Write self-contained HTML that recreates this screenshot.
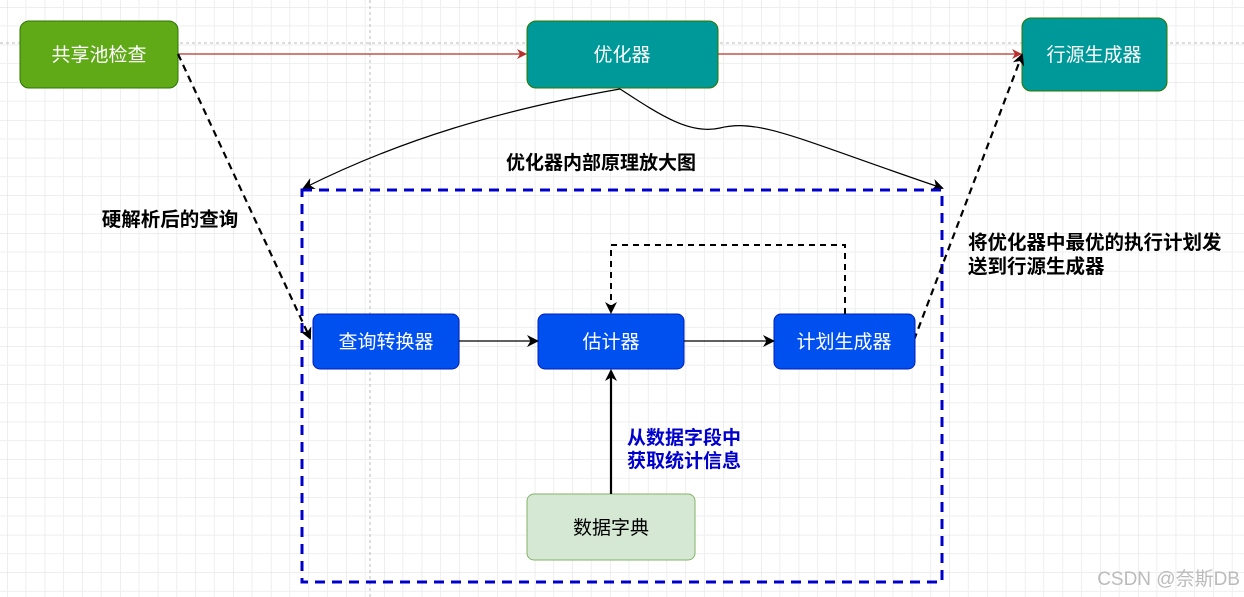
<!DOCTYPE html>
<html><head><meta charset="utf-8"><style>
html,body{margin:0;padding:0;background:#fff}
svg{display:block}
text{font-family:"Liberation Sans","Noto Sans CJK SC",sans-serif}
</style></head><body>
<svg width="1244" height="597" viewBox="0 0 1244 597" xmlns="http://www.w3.org/2000/svg">
<defs>
<pattern id="g" x="7" y="7" width="37.7" height="37.7" patternUnits="userSpaceOnUse">
<path d="M0 0H37.7M0 0V37.7" stroke="#dedede" stroke-width="1" fill="none"/>
<path d="M0 18.85H37.7M18.85 0V37.7" stroke="#efefef" stroke-width="1" fill="none"/>
</pattern>
<marker id="ab" markerWidth="12" markerHeight="12" refX="10" refY="6" orient="auto" markerUnits="userSpaceOnUse"><path d="M0 0L12 6L0 12L3.5 6Z" fill="#000"/></marker>
<marker id="ar" markerWidth="10" markerHeight="10" refX="9" refY="5" orient="auto" markerUnits="userSpaceOnUse"><path d="M0 0L10 5L0 10L3 5Z" fill="#b7312c"/></marker>
</defs>
<rect width="1244" height="597" fill="url(#g)"/>
<line x1="0" y1="43" x2="1244" y2="43" stroke="#bbb" stroke-dasharray="3 3"/>
<line x1="370" y1="0" x2="370" y2="597" stroke="#bbb" stroke-dasharray="3 3"/>

<rect x="20" y="21" width="158" height="67" rx="9" fill="#60a917" stroke="#2d7600"/>
<text x="99" y="61" font-size="19" fill="#fff" text-anchor="middle">共享池检查</text>
<rect x="527" y="21" width="191" height="67" rx="9" fill="#009999" stroke="#2d7600"/>
<text x="622" y="61" font-size="19" fill="#fff" text-anchor="middle">优化器</text>
<rect x="1022" y="18" width="145" height="73" rx="9" fill="#009999" stroke="#2d7600"/>
<text x="1094" y="61" font-size="19" fill="#fff" text-anchor="middle">行源生成器</text>

<line x1="178" y1="54" x2="526" y2="54" stroke="#b7312c" stroke-width="1.2" marker-end="url(#ar)"/>
<line x1="718" y1="54" x2="1021" y2="54" stroke="#b7312c" stroke-width="1.2" marker-end="url(#ar)"/>

<path d="M620 89 C500 110 400 140 304 188" fill="none" stroke="#000" stroke-width="1.2" marker-end="url(#ab)"/>
<path d="M620 89 C660 115 690 135 720 128 C760 118 800 140 942 188" fill="none" stroke="#000" stroke-width="1.2" marker-end="url(#ab)"/>

<text x="601" y="169" font-size="19" font-weight="bold" fill="#000" text-anchor="middle">优化器内部原理放大图</text>

<rect x="302" y="190" width="640" height="392" fill="none" stroke="#0000cc" stroke-width="3" stroke-dasharray="10 7"/>

<path d="M178 54 L310 338" fill="none" stroke="#000" stroke-width="2.2" stroke-dasharray="7 5" marker-end="url(#ab)"/>
<text x="170" y="226" font-size="19.5" font-weight="bold" fill="#000" text-anchor="middle">硬解析后的查询</text>
<path d="M914 340 L1022 55" fill="none" stroke="#000" stroke-width="2.2" stroke-dasharray="7 5" marker-end="url(#ab)"/>
<text x="968" y="249" font-size="19.5" font-weight="bold" fill="#000">将优化器中最优的执行计划发</text>
<text x="968" y="273" font-size="19.5" font-weight="bold" fill="#000">送到行源生成器</text>

<rect x="313" y="314" width="146" height="55" rx="7" fill="#0050ef" stroke="#001dbc"/>
<text x="386" y="348" font-size="19" fill="#fff" text-anchor="middle">查询转换器</text>
<rect x="538" y="314" width="146" height="55" rx="7" fill="#0050ef" stroke="#001dbc"/>
<text x="611" y="348" font-size="19" fill="#fff" text-anchor="middle">估计器</text>
<rect x="774" y="314" width="141" height="55" rx="7" fill="#0050ef" stroke="#001dbc"/>
<text x="844" y="348" font-size="19" fill="#fff" text-anchor="middle">计划生成器</text>
<rect x="527" y="494" width="168" height="66" rx="7" fill="#d5e8d4" stroke="#82b366"/>
<text x="611" y="534" font-size="19" fill="#000" text-anchor="middle">数据字典</text>

<line x1="459" y1="341" x2="537" y2="341" stroke="#000" stroke-width="1.2" marker-end="url(#ab)"/>
<line x1="684" y1="341" x2="773" y2="341" stroke="#000" stroke-width="1.2" marker-end="url(#ab)"/>
<path d="M845 314 V245 H611 V312" fill="none" stroke="#000" stroke-width="2" stroke-dasharray="6 5" marker-end="url(#ab)"/>
<line x1="611" y1="494" x2="611" y2="371" stroke="#000" stroke-width="2.2" marker-end="url(#ab)"/>
<text x="627" y="444" font-size="19" font-weight="bold" fill="#0000cc">从数据字段中</text>
<text x="627" y="467" font-size="19" font-weight="bold" fill="#0000cc">获取统计信息</text>

<text x="1240" y="585" font-size="19" fill="#bbb" text-anchor="end">CSDN @奈斯DB</text>
</svg>
</body></html>
